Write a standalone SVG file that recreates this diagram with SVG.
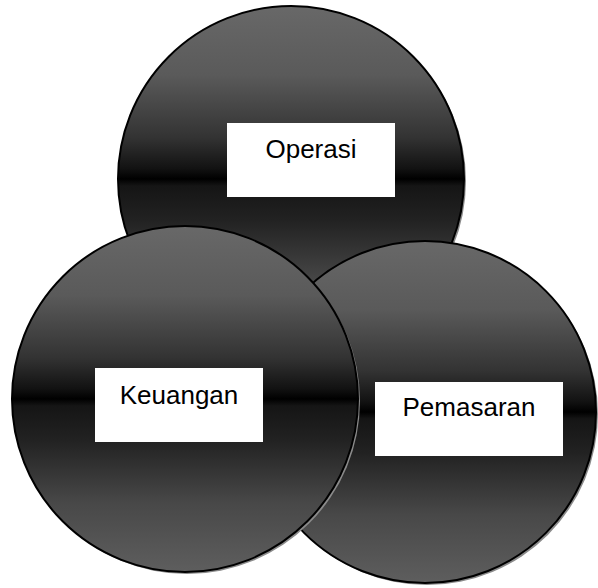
<svg xmlns="http://www.w3.org/2000/svg" width="598" height="588" viewBox="0 0 598 588">
  <defs>
    <linearGradient id="disc" x1="0" y1="0" x2="0" y2="1">
      <stop offset="0" stop-color="#686868"/>
      <stop offset="0.2" stop-color="#5a5a5a"/>
      <stop offset="0.38" stop-color="#333333"/>
      <stop offset="0.47" stop-color="#121212"/>
      <stop offset="0.5" stop-color="#000000"/>
      <stop offset="0.52" stop-color="#151515"/>
      <stop offset="0.62" stop-color="#222222"/>
      <stop offset="0.8" stop-color="#484848"/>
      <stop offset="1" stop-color="#5e5e5e"/>
    </linearGradient>
  </defs>
  <style>
    .shadow { fill: #8a8a8a; }
    .disc { fill: url(#disc); stroke: #000; stroke-width: 2; }
    .box { fill: #ffffff; }
    .label { font-family: "Liberation Sans", Arial, sans-serif; font-size: 26px; fill: #000; text-anchor: middle; }
  </style>

  <g id="operasi">
    <circle class="shadow" cx="293" cy="181" r="173"/>
    <circle class="disc" cx="291" cy="179" r="173"/>
    <rect class="box" x="227" y="123" width="168" height="74"/>
    <text class="label" x="311" y="158">Operasi</text>
  </g>

  <g id="pemasaran">
    <circle class="shadow" cx="427" cy="414" r="171"/>
    <circle class="disc" cx="425" cy="412" r="171"/>
    <rect class="box" x="375" y="382" width="188" height="74"/>
    <text class="label" x="469" y="416">Pemasaran</text>
  </g>

  <g id="keuangan">
    <circle class="shadow" cx="187" cy="401" r="173"/>
    <circle class="disc" cx="185" cy="399" r="173"/>
    <rect class="box" x="95" y="368" width="168" height="74"/>
    <text class="label" x="179" y="404">Keuangan</text>
  </g>

  <g id="connectors"/>
</svg>
